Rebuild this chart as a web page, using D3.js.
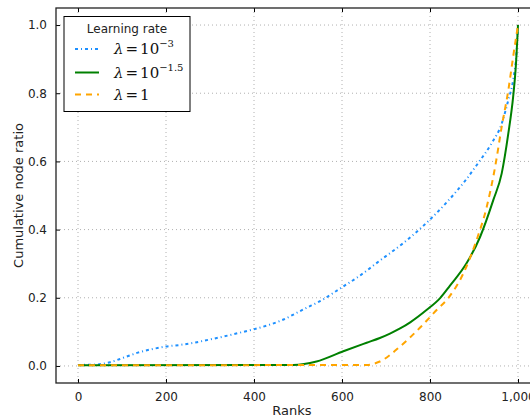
<!DOCTYPE html>
<html><head><meta charset="utf-8">
<script src="https://cdn.jsdelivr.net/npm/d3@7"></script>
<style>
html,body{margin:0;padding:0;background:#fff;}
svg{display:block;font-family:"DejaVu Sans",sans-serif;}
</style></head>
<body>
<script>
// ---- data ----
const xTicks = [0, 200, 400, 600, 800, 1000];
const yTicks = [0.0, 0.2, 0.4, 0.6, 0.8, 1.0];
const seriesNames = ["1e-3", "1e-1.5", "1"];

const ranksA = [0, 40, 73, 103, 136, 167, 200, 234, 267, 301, 333, 366, 398, 461, 520, 550, 605, 633, 686, 739, 789, 838, 881, 911, 940, 963, 978, 989, 997, 1000];
const valsA  = [0.003, 0.004, 0.011, 0.024, 0.039, 0.049, 0.057, 0.062, 0.069, 0.078, 0.087, 0.097, 0.107, 0.133, 0.171, 0.19, 0.235, 0.258, 0.309, 0.36, 0.416, 0.48, 0.545, 0.598, 0.653, 0.711, 0.78, 0.839, 0.927, 1.0];

const ranksB = [0, 489, 542, 603, 656, 686, 709, 732, 755, 792, 823, 845, 883, 914, 944, 963, 978, 989, 995, 1000];
const valsB  = [0.002, 0.003, 0.013, 0.043, 0.068, 0.082, 0.095, 0.11, 0.128, 0.164, 0.199, 0.235, 0.301, 0.379, 0.487, 0.565, 0.682, 0.79, 0.878, 1.0];

const ranksC = [0, 656, 686, 732, 777, 815, 842, 876, 906, 929, 948, 963, 978, 989, 1000];
const valsC  = [0.002, 0.003, 0.013, 0.057, 0.112, 0.164, 0.2, 0.272, 0.37, 0.467, 0.584, 0.702, 0.809, 0.907, 1.0];

// ---- layout ----
const W = 530, H = 418;
const L = 56, R = 540, T = 8, B = 383;
const svg = d3.select("body").append("svg").attr("width", W).attr("height", H);

const x = d3.scaleLinear().domain([-50, 1050]).range([L, R]);
const y = d3.scaleLinear().domain([-0.05, 1.05]).range([B, T]);

svg.append("defs").append("clipPath").attr("id", "clip")
  .append("rect").attr("x", L).attr("y", T).attr("width", R - L).attr("height", B - T);

// grid
const grid = svg.append("g");
grid.selectAll(".gx").data(xTicks).enter().append("line")
  .attr("x1", d => x(d)).attr("x2", d => x(d)).attr("y1", T).attr("y2", B)
  .attr("stroke", "#b0b0b0").attr("stroke-width", 1).attr("stroke-dasharray", "1,3");
grid.selectAll(".gy").data(yTicks).enter().append("line")
  .attr("y1", d => y(d)).attr("y2", d => y(d)).attr("x1", L).attr("x2", R)
  .attr("stroke", "#b0b0b0").attr("stroke-width", 1).attr("stroke-dasharray", "1,3");

// axes (inward ticks)
const fmtY = d3.format(".1f");
const axB = svg.append("g").attr("transform", `translate(0,${B})`)
  .call(d3.axisBottom(x).tickValues(xTicks).tickSizeInner(-4).tickSizeOuter(0).tickPadding(9));
const axT = svg.append("g").attr("transform", `translate(0,${T})`)
  .call(d3.axisTop(x).tickValues(xTicks).tickSizeInner(-4).tickSizeOuter(0).tickFormat(""));
const axL = svg.append("g").attr("transform", `translate(${L},0)`)
  .call(d3.axisLeft(y).tickValues(yTicks).tickSizeInner(-4).tickSizeOuter(0).tickPadding(9).tickFormat(fmtY));
const axR = svg.append("g").attr("transform", `translate(${R},0)`)
  .call(d3.axisRight(y).tickValues(yTicks).tickSizeInner(-4).tickSizeOuter(0).tickFormat(""));
[axB, axT, axL, axR].forEach(a => {
  a.selectAll(".domain").remove();
  a.selectAll("text").attr("font-family", "DejaVu Sans").attr("font-size", 12).attr("fill", "#222");
  a.selectAll("line").attr("stroke", "#000");
});
// spines
svg.append("rect").attr("x", L).attr("y", T).attr("width", R - L).attr("height", B - T)
  .attr("fill", "none").attr("stroke", "#222").attr("stroke-width", 1.3);

// lines
const line = d3.line().x(d => x(d[0])).y(d => y(d[1])).curve(d3.curveMonotoneX);
const series = [
  {name: seriesNames[0], pts: d3.zip(ranksA, valsA), color: "#1e90ff", dash: "3,3,1,3", width: 2},
  {name: seriesNames[1], pts: d3.zip(ranksB, valsB), color: "#008000", dash: null, width: 2},
  {name: seriesNames[2], pts: d3.zip(ranksC, valsC), color: "#ffa500", dash: "6,5", width: 2}
];
const gl = svg.append("g").attr("clip-path", "url(#clip)");
series.forEach(s => {
  gl.append("path").attr("d", line(s.pts)).attr("fill", "none")
    .attr("stroke", s.color).attr("stroke-width", s.width)
    .attr("stroke-dasharray", s.dash);
});

// axis labels
svg.append("text").attr("x", (L + R) / 2 - 6).attr("y", 415).attr("text-anchor", "middle")
  .attr("font-size", 13).attr("fill", "#222").text("Ranks");
svg.append("text").attr("transform", `translate(23,${(T + B) / 2}) rotate(-90)`)
  .attr("text-anchor", "middle").attr("font-size", 13).attr("fill", "#222").text("Cumulative node ratio");

// legend
const lg = svg.append("g");
lg.append("rect").attr("x", 64).attr("y", 16.5).attr("width", 126).attr("height", 95)
  .attr("fill", "#fff").attr("stroke", "#000").attr("stroke-width", 1);
lg.append("text").attr("x", 127).attr("y", 33).attr("text-anchor", "middle")
  .attr("font-size", 12).attr("fill", "#222").text("Learning rate");
const sups = ["\u22123", "\u22121.5", null];
const ys = [49, 72.5, 94.5];
series.forEach((s, i) => {
  lg.append("line").attr("x1", 75).attr("x2", 99).attr("y1", ys[i]).attr("y2", ys[i])
    .attr("stroke", s.color).attr("stroke-width", s.width).attr("stroke-dasharray", s.dash);
  const t = lg.append("text").attr("x", 114).attr("y", ys[i] + 5)
    .attr("font-family", "DejaVu Serif").attr("font-size", 15).attr("fill", "#111");
  t.append("tspan").attr("font-style", "italic").text("\u03bb");
  t.append("tspan").attr("dx", 2).text("=");
  if (sups[i]) {
    t.append("tspan").attr("dx", 2).text("10");
    t.append("tspan").attr("dy", -7).attr("font-size", 10).text(sups[i]);
  } else {
    t.append("tspan").attr("dx", 2).text("1");
  }
});
</script>
</body></html>
